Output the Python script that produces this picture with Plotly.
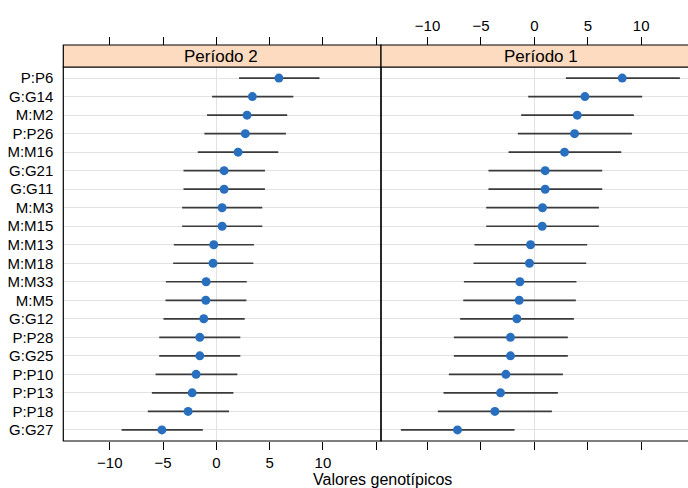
import plotly.graph_objects as go

genotypes = ["P:P6", "G:G14", "M:M2", "P:P26", "M:M16", "G:G21", "G:G11", "M:M3",
             "M:M15", "M:M13", "M:M18", "M:M33", "M:M5", "G:G12", "P:P28", "G:G25",
             "P:P10", "P:P13", "P:P18", "G:G27"]

# Período 2 (left panel)
p2_est = [5.87, 3.38, 2.88, 2.72, 2.04, 0.73, 0.73, 0.54, 0.54, -0.24, -0.31, -0.96,
          -0.99, -1.18, -1.55, -1.55, -1.90, -2.27, -2.65, -5.11]
p2_low = [2.13, -0.40, -0.87, -1.12, -1.74, -3.08, -3.08, -3.21, -3.21, -3.99, -4.05,
          -4.74, -4.77, -4.96, -5.36, -5.36, -5.70, -6.05, -6.43, -8.89]
p2_up = [9.68, 7.22, 6.65, 6.53, 5.81, 4.56, 4.56, 4.31, 4.31, 3.53, 3.47, 2.85, 2.82,
         2.66, 2.25, 2.25, 1.97, 1.60, 1.19, -1.27]

# Período 1 (right panel)
p1_est = [8.22, 4.73, 4.01, 3.76, 2.82, 1.01, 1.01, 0.76, 0.73, -0.36, -0.46, -1.36,
          -1.42, -1.64, -2.24, -2.24, -2.67, -3.17, -3.70, -7.20]
p1_low = [2.95, -0.58, -1.24, -1.55, -2.42, -4.30, -4.30, -4.51, -4.51, -5.61, -5.70,
          -6.60, -6.66, -6.95, -7.54, -7.54, -8.01, -8.51, -9.04, -12.50]
p1_up = [13.62, 10.09, 9.31, 9.13, 8.13, 6.35, 6.35, 6.04, 6.04, 4.94, 4.85, 3.94, 3.88,
         3.70, 3.13, 3.13, 2.67, 2.20, 1.64, -1.86]

panel_titles = ["Período 2", "Período 1"]
x_title = "Valores genotípicos"
tick_vals = [-10, -5, 0, 5, 10, 15]
tick_text = ["\u221210", "\u22125", "0", "5", "10", ""]

W, H = 688, 488
FONT = "Liberation Sans, Arial, Helvetica, sans-serif"
DOT = "#2870bf"
BAR = "#3a3a3a"
GRID = "#e2e2e2"
STRIP = "#fddbc0"

left_dom = [63.3 / W, 381.0 / W]
right_dom = [381.0 / W, 1.0]
ydt = 374.0 / 396.0  # plot-area top as fraction of paper (paper spans y=45..441)

fig = go.Figure()


def add_panel(est, low, up, xa, ya):
    fig.add_trace(go.Scatter(
        x=est, y=genotypes, xaxis=xa, yaxis=ya, mode="markers",
        marker=dict(color=DOT, size=9, line=dict(width=0)),
        error_x=dict(type="data", symmetric=False,
                     array=[u - e for u, e in zip(up, est)],
                     arrayminus=[e - l for e, l in zip(est, low)],
                     color=BAR, thickness=1.7, width=0),
        showlegend=False, hoverinfo="x+y"))


add_panel(p2_est, p2_low, p2_up, "x", "y")
add_panel(p1_est, p1_low, p1_up, "x2", "y2")

# invisible helper traces so the top axes are drawn
fig.add_trace(go.Scatter(x=[0], y=[genotypes[0]], xaxis="x3", yaxis="y",
                         mode="markers", marker=dict(opacity=0), showlegend=False,
                         hoverinfo="skip"))
fig.add_trace(go.Scatter(x=[0], y=[genotypes[0]], xaxis="x4", yaxis="y2",
                         mode="markers", marker=dict(opacity=0), showlegend=False,
                         hoverinfo="skip"))

xr_left = [-14.36, 15.45]
xr_right = [-14.36, 14.38]

common_x = dict(tickmode="array", tickvals=tick_vals, ticktext=tick_text,
                ticks="outside", ticklen=8, tickwidth=1, tickcolor="black",
                showgrid=False, showline=False, automargin=False,
                tickfont=dict(family=FONT, size=15, color="black"))

common_y = dict(type="category", categoryorder="array",
                categoryarray=list(reversed(genotypes)), range=[-0.6, 19.6],
                domain=[0, ydt], showgrid=True, gridcolor=GRID, gridwidth=1,
                zeroline=False, showline=False, ticks="outside", ticklen=6,
                tickcolor="rgba(0,0,0,0)", automargin=False,
                tickfont=dict(family=FONT, size=15, color="black"))

fig.update_layout(
    width=W, height=H,
    margin=dict(l=0, r=0, t=45, b=47, pad=0, autoexpand=False),
    paper_bgcolor="white", plot_bgcolor="white",
    font=dict(family=FONT, color="black"),
    xaxis=dict(domain=left_dom, range=xr_left, anchor="y", side="bottom",
               zeroline=True, zerolinecolor=GRID, zerolinewidth=1, **common_x),
    xaxis3=dict(overlaying="x", range=xr_left, anchor="free", position=1,
                side="top", zeroline=False, showticklabels=False, **common_x),
    xaxis2=dict(domain=right_dom, range=xr_right, anchor="y2", side="bottom",
                zeroline=True, zerolinecolor=GRID, zerolinewidth=1,
                showticklabels=False, **common_x),
    xaxis4=dict(overlaying="x2", range=xr_right, anchor="free", position=1,
                side="top", zeroline=False, **common_x),
    yaxis=dict(anchor="x", **common_y),
    yaxis2=dict(anchor="x2", showticklabels=False, **common_y),
)

shapes = []
# panels
shapes.append(dict(type="rect", xref="paper", yref="paper", x0=left_dom[0], x1=left_dom[1],
                   y0=0, y1=ydt, line=dict(color="black", width=1.2), layer="above"))
shapes.append(dict(type="rect", xref="paper", yref="paper", x0=right_dom[0], x1=1.05,
                   y0=0, y1=ydt, line=dict(color="black", width=1.2), layer="above"))
# strips
shapes.append(dict(type="rect", xref="paper", yref="paper", x0=left_dom[0], x1=left_dom[1],
                   y0=ydt, y1=1, fillcolor=STRIP, line=dict(color="black", width=1.2),
                   layer="above"))
shapes.append(dict(type="rect", xref="paper", yref="paper", x0=right_dom[0], x1=1.05,
                   y0=ydt, y1=1, fillcolor=STRIP, line=dict(color="black", width=1.2),
                   layer="above"))
fig.update_layout(shapes=shapes)

annotations = [
    dict(text=panel_titles[0], xref="paper", yref="paper", x=220.5 / W, y=(ydt + 1) / 2,
         xanchor="center", yanchor="middle", showarrow=False,
         font=dict(family=FONT, size=17, color="black")),
    dict(text=panel_titles[1], xref="paper", yref="paper", x=541.0 / W, y=(ydt + 1) / 2,
         xanchor="center", yanchor="middle", showarrow=False,
         font=dict(family=FONT, size=17, color="black")),
    dict(text=x_title, xref="paper", yref="paper", x=382.0 / W, y=-(469.0 - 441.0) / 396.0,
         xanchor="center", yanchor="top", showarrow=False,
         font=dict(family=FONT, size=16, color="black")),
]
fig.update_layout(annotations=annotations)

fig.write_html("out.html",
               config={"displayModeBar": False},
               post_script="document.body.style.margin='0px';"
                           "document.body.style.overflow='hidden';")
